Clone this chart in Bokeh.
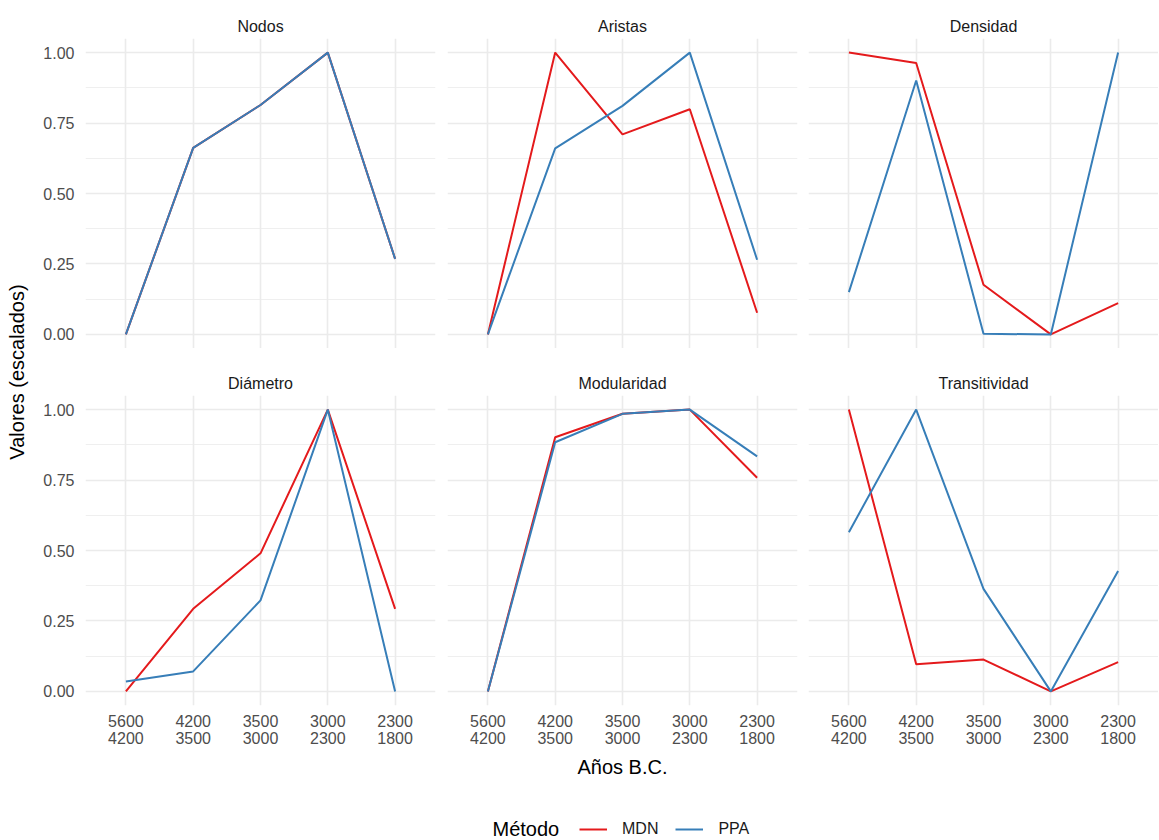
from bokeh.plotting import figure
from bokeh.models import (Range1d, FixedTicker, Title, Legend, LegendItem, Grid,
                          NumeralTickFormatter, Label)
from bokeh.layouts import row, column
from bokeh.embed import file_html
from bokeh.resources import INLINE

# ---------------- data ----------------
periods = ["5600\n4200", "4200\n3500", "3500\n3000", "3000\n2300", "2300\n1800"]
metrics = ["Nodos", "Aristas", "Densidad", "Diámetro", "Modularidad", "Transitividad"]
methods = ["MDN", "PPA"]
legend_title = "Método"
x_title = "Años B.C."
y_title = "Valores (escalados)"

mdn_nodos = [0.0, 0.662, 0.814, 1.0, 0.268]
ppa_nodos = [0.0, 0.662, 0.814, 1.0, 0.268]
mdn_aristas = [0.0, 1.0, 0.710, 0.799, 0.077]
ppa_aristas = [0.0, 0.660, 0.811, 1.0, 0.265]
mdn_densidad = [1.0, 0.963, 0.176, 0.0, 0.111]
ppa_densidad = [0.150, 0.901, 0.002, 0.0, 1.0]
mdn_diametro = [0.0, 0.293, 0.490, 1.0, 0.293]
ppa_diametro = [0.035, 0.071, 0.323, 1.0, 0.0]
mdn_modularidad = [0.0, 0.902, 0.985, 1.0, 0.758]
ppa_modularidad = [0.0, 0.884, 0.985, 1.0, 0.834]
mdn_transitividad = [1.0, 0.096, 0.113, 0.0, 0.104]
ppa_transitividad = [0.565, 1.0, 0.364, 0.0, 0.427]

mdn_values = [mdn_nodos, mdn_aristas, mdn_densidad, mdn_diametro, mdn_modularidad, mdn_transitividad]
ppa_values = [ppa_nodos, ppa_aristas, ppa_densidad, ppa_diametro, ppa_modularidad, ppa_transitividad]

yticks = [0.0, 0.25, 0.5, 0.75, 1.0]
ytick_labels = ["0.00", "0.25", "0.50", "0.75", "1.00"]
yminor = [0.125, 0.375, 0.625, 0.875]

# ---------------- style ----------------
FONT = "Liberation Sans"
RED = "#E41A1C"
BLUE = "#377EB8"
GRID = "#EBEBEB"
xs = list(range(1, len(periods) + 1))

FRAME_W = 350
FRAME_H = 310
TOTAL_W = 1158


def make_panel(i, metric, mdn, ppa):
    r, c = divmod(i, 3)
    left = 52 if c == 0 else 0
    right = [12, 11, 0][c]
    top = 38 if r == 0 else 47
    bottom = 0 if r == 0 else 80
    p = figure(width=left + FRAME_W + right, height=top + FRAME_H + bottom,
               x_range=Range1d(0.4, len(periods) + 0.6), y_range=Range1d(-0.05, 1.05),
               output_backend="svg", toolbar_location=None,
               x_axis_location="below" if r == 1 else None,
               y_axis_location="left" if c == 0 else None,
               min_border_left=left, min_border_right=right,
               min_border_top=top, min_border_bottom=bottom)
    p.outline_line_color = None
    p.background_fill_color = "white"
    p.border_fill_color = "white"
    p.center = []
    p.add_layout(Grid(dimension=0, ticker=FixedTicker(ticks=xs),
                      grid_line_color=GRID, grid_line_width=1.6))
    p.add_layout(Grid(dimension=1, ticker=FixedTicker(ticks=yticks, minor_ticks=yminor),
                      grid_line_color=GRID, grid_line_width=1.6,
                      minor_grid_line_color=GRID, minor_grid_line_width=0.8))
    if r == 1:
        ax = p.xaxis[0]
        ax.ticker = FixedTicker(ticks=xs)
        ax.major_label_overrides = {x: lab for x, lab in zip(xs, periods)}
        ax.axis_line_color = None
        ax.major_tick_line_color = None
        ax.minor_tick_line_color = None
        ax.major_tick_out = 0
        ax.major_tick_in = 0
        ax.minor_tick_out = 0
        ax.minor_tick_in = 0
        ax.major_label_standoff = 7
        ax.major_label_text_font = FONT
        ax.major_label_text_font_size = "16px"
        ax.major_label_text_line_height = 1.05
        ax.major_label_text_color = "#4D4D4D"
    if c == 0:
        ay = p.yaxis[0]
        ay.ticker = FixedTicker(ticks=yticks)
        ay.formatter = NumeralTickFormatter(format="0.00")
        ay.major_label_overrides = {t: lab for t, lab in zip(yticks, ytick_labels)}
        ay.axis_line_color = None
        ay.major_tick_line_color = None
        ay.minor_tick_line_color = None
        ay.major_tick_out = 0
        ay.major_tick_in = 0
        ay.minor_tick_out = 0
        ay.minor_tick_in = 0
        ay.major_label_standoff = 11
        ay.major_label_text_font = FONT
        ay.major_label_text_font_size = "16px"
        ay.major_label_text_color = "#4D4D4D"
    p.add_layout(Title(text=metric, align="center", text_font=FONT, text_font_size="16px",
                       text_font_style="normal", text_color="#1A1A1A", standoff=8), "above")
    p.line(xs, mdn, line_color=RED, line_width=2)
    p.line(xs, ppa, line_color=BLUE, line_width=2)
    if i == 4:
        p.add_layout(Title(text=x_title, align="center", text_font=FONT, text_font_size="20px",
                           text_font_style="normal", text_color="black", standoff=7), "below")
    return p


panels = [make_panel(i, m, a, b) for i, (m, a, b) in enumerate(zip(metrics, mdn_values, ppa_values))]

# y-axis title figure
ylab = figure(width=33, height=348 + 437, x_range=Range1d(0, 1), y_range=Range1d(0, 1),
              output_backend="svg", toolbar_location=None,
              x_axis_location=None, y_axis_location=None,
              min_border_left=30, min_border_right=0, min_border_top=38, min_border_bottom=80)
ylab.center = []
ylab.outline_line_color = None
ylab.add_layout(Title(text=y_title, align="center", text_font=FONT,
                      text_font_size="20px", text_font_style="normal", text_color="black",
                      standoff=5), "left")

# legend strip (data units = pixels of this strip); legend renderers hold no data
LG_H = 55
NAN = float("nan")
lg = figure(width=TOTAL_W, height=LG_H, x_range=Range1d(0, TOTAL_W), y_range=Range1d(0, LG_H),
            output_backend="svg", toolbar_location=None,
            x_axis_location=None, y_axis_location=None,
            min_border_left=0, min_border_right=0, min_border_top=0, min_border_bottom=0)
lg.center = []
lg.outline_line_color = None
r_mdn = lg.line(x=[NAN], y=[NAN], line_color=RED, line_width=2)
r_ppa = lg.line(x=[NAN], y=[NAN], line_color=BLUE, line_width=2)
lg.add_layout(Label(x=492, y=12, text=legend_title, text_font=FONT, text_font_size="20px",
                    text_baseline="middle", text_align="left", text_color="black"))
legend = Legend(items=[LegendItem(label=methods[0], renderers=[r_mdn]),
                       LegendItem(label=methods[1], renderers=[r_ppa])],
                orientation="horizontal", location=(579, 1),
                label_text_font=FONT, label_text_font_size="16px", label_standoff=15,
                label_text_color="#1A1A1A",
                spacing=17, glyph_width=28, glyph_height=20, padding=0, margin=0,
                border_line_color=None, background_fill_alpha=0)
lg.add_layout(legend, "center")

layout = column(row(ylab, column(row(panels[0], panels[1], panels[2]),
                                 row(panels[3], panels[4], panels[5]))), lg)

open("out.html", "w").write(file_html(layout, INLINE))
